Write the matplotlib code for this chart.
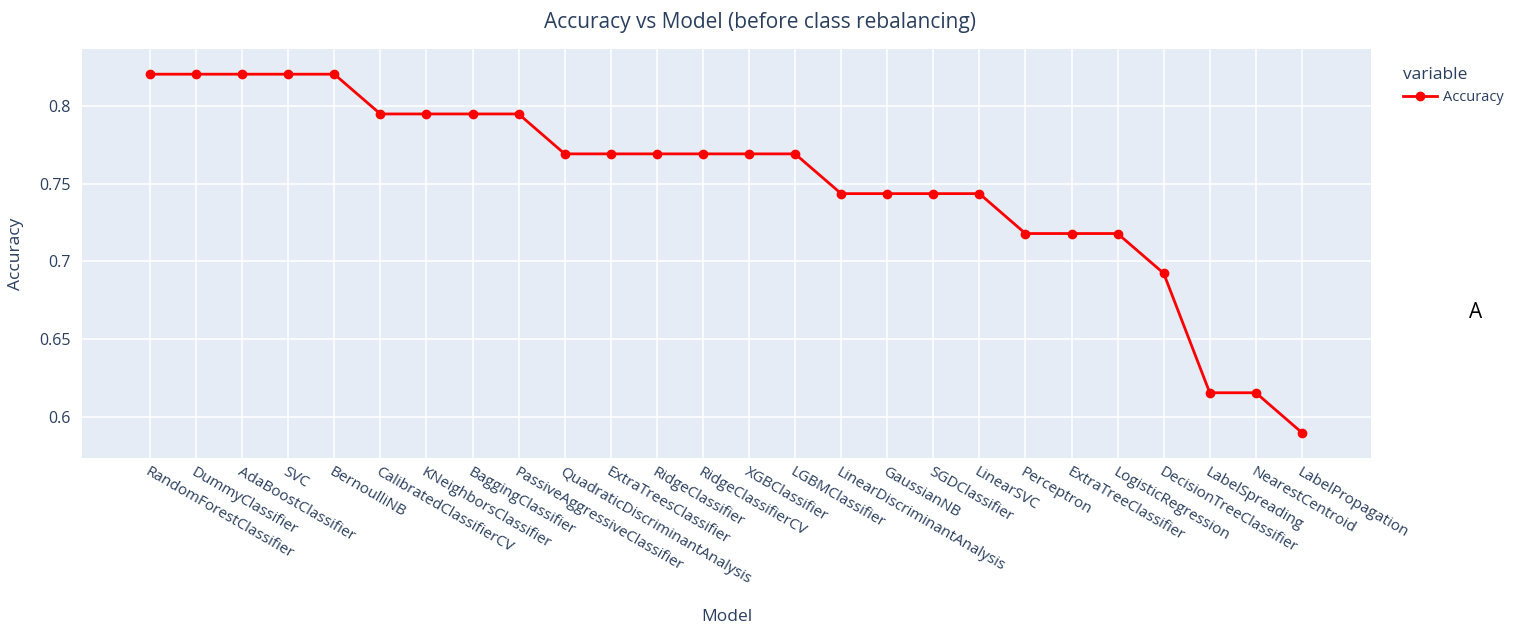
import matplotlib
matplotlib.use("Agg")
import matplotlib.pyplot as plt
from matplotlib.lines import Line2D

# Accuracy per model (before class rebalancing)
models = ["RandomForestClassifier", "DummyClassifier", "AdaBoostClassifier", "SVC",
          "BernoulliNB", "CalibratedClassifierCV", "KNeighborsClassifier",
          "BaggingClassifier", "PassiveAggressiveClassifier",
          "QuadraticDiscriminantAnalysis", "ExtraTreesClassifier", "RidgeClassifier",
          "RidgeClassifierCV", "XGBClassifier", "LGBMClassifier",
          "LinearDiscriminantAnalysis", "GaussianNB", "SGDClassifier", "LinearSVC",
          "Perceptron", "ExtraTreeClassifier", "LogisticRegression",
          "DecisionTreeClassifier", "LabelSpreading", "NearestCentroid",
          "LabelPropagation"]
accuracy = [0.8205, 0.8205, 0.8205, 0.8205, 0.8205, 0.7949, 0.7949, 0.7949, 0.7949,
            0.7692, 0.7692, 0.7692, 0.7692, 0.7692, 0.7692, 0.7436, 0.7436, 0.7436,
            0.7436, 0.7179, 0.7179, 0.7179, 0.6923, 0.6154, 0.6154, 0.5897]
yticks = [0.6, 0.65, 0.7, 0.75, 0.8]
ytick_labels = ["0.6", "0.65", "0.7", "0.75", "0.8"]

txt = "#2a3f5f"
plt.rcParams["font.family"] = ["Open Sans", "DejaVu Sans"]

fig = plt.figure(figsize=(15.21, 6.31), dpi=100)
ax = fig.add_axes([0.0539, 0.2742, 0.8475, 0.6481])
ax.set_facecolor("#e5ecf6")

x = list(range(len(models)))
ax.plot(x, accuracy, color="#ff0000", lw=2, marker="o", ms=6, zorder=3)

ax.set_xlim(-1.476, len(models) - 1 + 1.50)
ax.set_ylim(0.5734, 0.8367)
ax.set_xticks(x)
ax.set_xticklabels(models, rotation=-30, ha="left", va="top",
                   rotation_mode="anchor", fontsize=11, color=txt)
ax.set_yticks(yticks)
ax.set_yticklabels(ytick_labels, fontsize=11.5, color=txt)
ax.tick_params(length=0, pad=8)
ax.tick_params(axis="x", pad=5)
ax.grid(color="white", lw=1.1)
ax.set_axisbelow(True)
for s in ax.spines.values():
    s.set_visible(False)

ax.set_xlabel("Model", fontsize=12.5, color=txt)
ax.xaxis.set_label_coords(0.5, -0.37)
ax.set_ylabel("Accuracy", fontsize=12.5, color=txt)
ax.yaxis.set_label_coords(-0.045, 0.5)

fig.text(0.5, 0.965, "Accuracy vs Model (before class rebalancing)",
         ha="center", va="center", fontsize=15, color=txt)

handle = Line2D([], [], color="#ff0000", lw=2, marker="o", ms=6)
leg = fig.legend([handle], ["Accuracy"], loc="upper left",
                 bbox_to_anchor=(0.914, 0.915), frameon=False, title="variable",
                 fontsize=10.5, title_fontsize=12.5, handlelength=2.3,
                 handletextpad=0.4, labelcolor=txt, alignment="left")
leg.get_title().set_color(txt)

fig.text(0.97, 0.505, "A", ha="center", va="center", fontsize=15, color="black")

fig.savefig("out.png", dpi=100)
